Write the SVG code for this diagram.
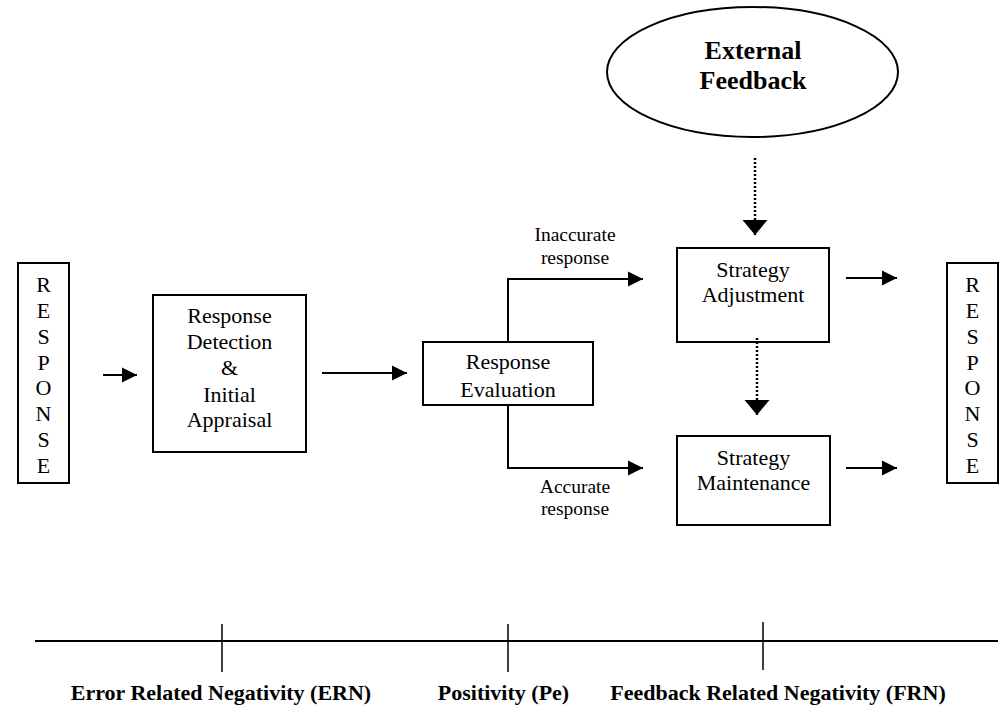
<svg xmlns="http://www.w3.org/2000/svg" width="1005" height="719" viewBox="0 0 1005 719">
  <style>
    .box { fill: #fff; stroke: #000; stroke-width: 2; }
    .t { font-family: "Liberation Serif", "Times New Roman", serif; font-size: 22px; fill: #000; text-anchor: middle; }
    .lbl { font-family: "Liberation Serif", "Times New Roman", serif; font-size: 19.5px; fill: #000; text-anchor: middle; }
    .b { font-family: "Liberation Serif", "Times New Roman", serif; font-weight: bold; fill: #000; text-anchor: middle; }
    .flow { fill: none; stroke: #000; stroke-width: 2; }
    .dot { fill: none; stroke: #000; stroke-width: 2.5; stroke-dasharray: 2 2; }
    .axis { fill: none; stroke: #000; stroke-width: 2; }
    .tick { fill: none; stroke: #000; stroke-width: 1.5; }
  </style>
  <defs>
    <marker id="head" markerUnits="userSpaceOnUse" markerWidth="16" markerHeight="16" viewBox="0 0 16 16" refX="15" refY="8" orient="auto">
      <path d="M0,0.5 L15,8 L0,15.5 Z" fill="#000"/>
    </marker>
    <marker id="bighead" markerUnits="userSpaceOnUse" markerWidth="26" markerHeight="26" viewBox="0 0 16 26" refX="15" refY="13" orient="auto">
      <path d="M0,0.5 L15,13 L0,25.5 Z" fill="#000"/>
    </marker>
  </defs>

  <!-- incoming response -->
  <g id="response-in">
    <rect class="box" x="18" y="263" width="51" height="220"/>
    <text class="t" x="43.5" y="292">R</text>
    <text class="t" x="43.5" y="318">E</text>
    <text class="t" x="43.5" y="344">S</text>
    <text class="t" x="43.5" y="370">P</text>
    <text class="t" x="43.5" y="395">O</text>
    <text class="t" x="43.5" y="421">N</text>
    <text class="t" x="43.5" y="447">S</text>
    <text class="t" x="43.5" y="473">E</text>
  </g>

  <g id="detection">
    <rect class="box" x="153" y="295" width="153" height="157"/>
    <text class="t" x="229.5" y="323">Response</text>
    <text class="t" x="229.5" y="349">Detection</text>
    <text class="t" x="229.5" y="375">&amp;</text>
    <text class="t" x="229.5" y="402">Initial</text>
    <text class="t" x="229.5" y="427">Appraisal</text>
  </g>

  <g id="evaluation">
    <rect class="box" x="423" y="342" width="170" height="63"/>
    <text class="t" x="508" y="369">Response</text>
    <text class="t" x="508" y="397">Evaluation</text>
  </g>

  <g id="external-feedback">
    <ellipse cx="752.5" cy="72" rx="145.5" ry="65" fill="#fff" stroke="#000" stroke-width="2"/>
    <text class="b" x="753" y="59" font-size="26">External</text>
    <text class="b" x="753" y="89" font-size="26">Feedback</text>
  </g>

  <g id="adjustment">
    <rect class="box" x="677" y="248" width="152" height="94"/>
    <text class="t" x="753" y="277">Strategy</text>
    <text class="t" x="753" y="302">Adjustment</text>
  </g>

  <g id="maintenance">
    <rect class="box" x="677" y="436" width="153" height="89"/>
    <text class="t" x="753.5" y="465">Strategy</text>
    <text class="t" x="753.5" y="490">Maintenance</text>
  </g>

  <!-- outgoing response -->
  <g id="response-out">
    <rect class="box" x="947" y="263" width="51" height="220"/>
    <text class="t" x="972.5" y="292">R</text>
    <text class="t" x="972.5" y="318">E</text>
    <text class="t" x="972.5" y="344">S</text>
    <text class="t" x="972.5" y="370">P</text>
    <text class="t" x="972.5" y="395">O</text>
    <text class="t" x="972.5" y="421">N</text>
    <text class="t" x="972.5" y="447">S</text>
    <text class="t" x="972.5" y="473">E</text>
  </g>

  <g id="connectors">
    <line class="flow" x1="103" y1="375" x2="137" y2="375" marker-end="url(#head)"/>
    <line class="flow" x1="322" y1="373" x2="407" y2="373" marker-end="url(#head)"/>
    <polyline class="flow" points="508,342 508,279 643,279" marker-end="url(#head)"/>
    <polyline class="flow" points="508,405 508,468 643,468" marker-end="url(#head)"/>
    <line class="flow" x1="846" y1="278" x2="897" y2="278" marker-end="url(#head)"/>
    <line class="flow" x1="846" y1="468" x2="897" y2="468" marker-end="url(#head)"/>
    <line class="dot" x1="755" y1="158" x2="755" y2="235" marker-end="url(#bighead)"/>
    <line class="dot" x1="757" y1="338" x2="757" y2="415" marker-end="url(#bighead)"/>
    <text class="lbl" x="575" y="241">Inaccurate</text>
    <text class="lbl" x="575" y="264">response</text>
    <text class="lbl" x="575" y="493">Accurate</text>
    <text class="lbl" x="575" y="515">response</text>
  </g>

  <!-- timeline of components -->
  <g id="timeline">
    <line class="axis" x1="35" y1="641" x2="998" y2="641"/>
    <line class="tick" x1="222" y1="624" x2="222" y2="672"/>
    <line class="tick" x1="508" y1="624" x2="508" y2="672"/>
    <line class="tick" x1="763" y1="622" x2="763" y2="670"/>
    <text class="b" x="221" y="700" font-size="22">Error Related Negativity (ERN)</text>
    <text class="b" x="503.5" y="700" font-size="22">Positivity (Pe)</text>
    <text class="b" x="778" y="700" font-size="22">Feedback Related Negativity (FRN)</text>
  </g>
</svg>
